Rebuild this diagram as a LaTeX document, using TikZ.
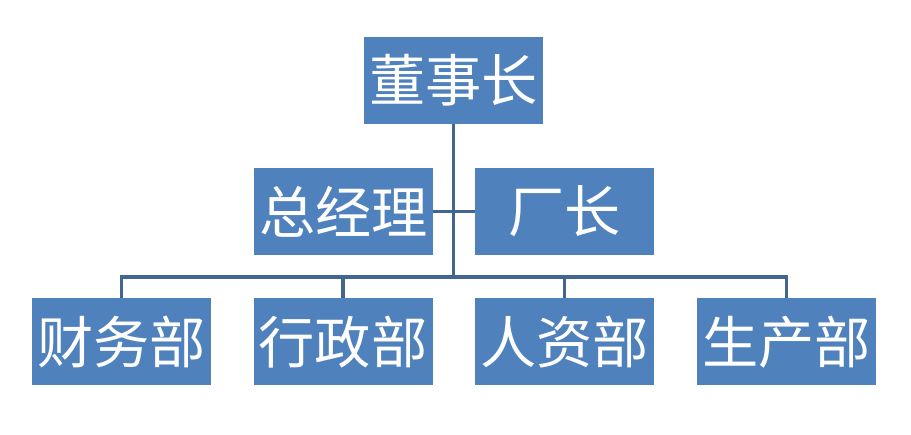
\documentclass[tikz,border=0pt]{standalone}
\usepackage{fontspec}
\newfontfamily\cjk{Noto Sans CJK SC}
\usetikzlibrary{positioning}
\definecolor{boxblue}{RGB}{79,129,189}
\definecolor{lineblue}{RGB}{65,103,145}

\begin{document}
\begin{tikzpicture}[
            box/.style={rectangle, fill=boxblue, minimum width=3.58cm, minimum height=1.74cm, inner sep=0pt, text=white, font=\cjk\fontsize{32}{32}\selectfont},
            link/.style={draw=lineblue, line width=2.2pt}
        ]
            \useasboundingbox (0,0) rectangle (18.22,8.7);

            % Top level
            \node[box] (dsz) at (9.07,7.09) {董事长};

            % Second level
            \node[box] (zjl) at (6.87,4.47) {总经理};
            \node[box] (cz) at (11.29,4.47) {厂长};

            % Departments
            \node[box] (cwb) at (2.43,1.86) {财务部};
            \node[box] (xzb) at (6.86,1.86) {行政部};
            \node[box] (rzb) at (11.29,1.86) {人资部};
            \node[box] (scb) at (15.73,1.86) {生产部};

            \coordinate (bus) at (9.07,3.16);

            \draw[link] (dsz.south) -- (bus);
            \draw[link] (zjl.east) -- (cz.west);
            \draw[link] (bus) -| (cwb.north);
            \draw[link] (bus) -| (xzb.north);
            \draw[link] (bus) -| (rzb.north);
            \draw[link] (bus) -| (scb.north);
        \end{tikzpicture}
\end{document}
